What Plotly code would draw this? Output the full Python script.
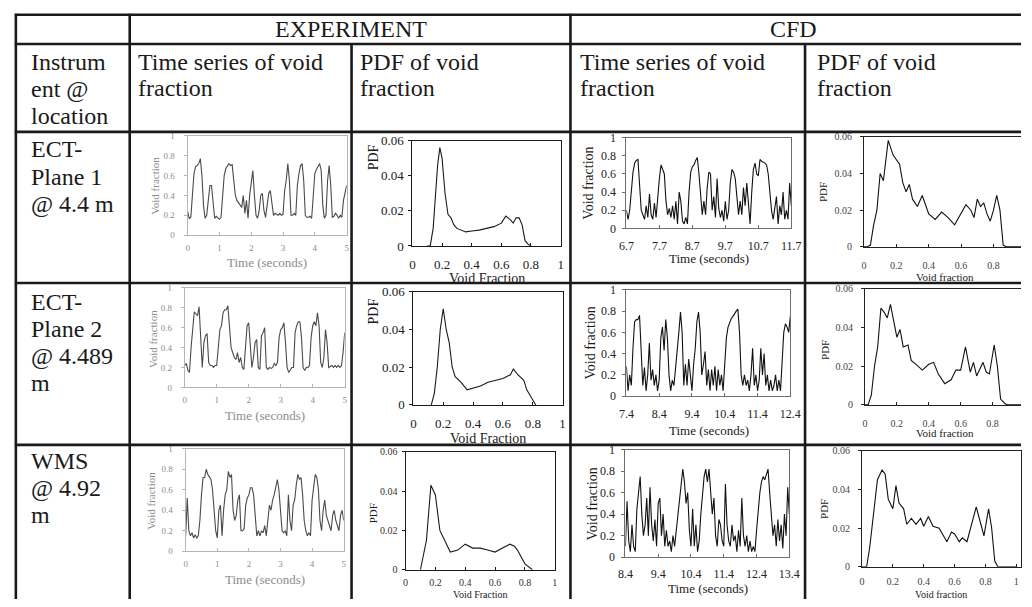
import plotly.graph_objects as go

# ---------------- DATA ----------------
EXP_T_START, EXP_T_END = 0.0, 5.0
exp1_ts = [0.24, 0.17, 0.18, 0.40, 0.62, 0.69, 0.70, 0.72, 0.77, 0.60,
           0.30, 0.17, 0.20, 0.35, 0.50, 0.50, 0.30, 0.17, 0.19, 0.17,
           0.16, 0.18, 0.40, 0.60, 0.67, 0.69, 0.72, 0.70, 0.71, 0.55,
           0.40, 0.35, 0.33, 0.30, 0.28, 0.40, 0.22, 0.35, 0.17, 0.40,
           0.55, 0.65, 0.40, 0.20, 0.17, 0.25, 0.40, 0.42, 0.25, 0.18,
           0.30, 0.42, 0.45, 0.30, 0.20, 0.22, 0.21, 0.20, 0.22, 0.20,
           0.21, 0.45, 0.55, 0.72, 0.55, 0.20, 0.20, 0.22, 0.20, 0.50,
           0.62, 0.70, 0.72, 0.55, 0.20, 0.18, 0.18, 0.19, 0.17, 0.45,
           0.62, 0.66, 0.70, 0.72, 0.65, 0.30, 0.17, 0.20, 0.55, 0.70,
           0.50, 0.18, 0.19, 0.22, 0.20, 0.17, 0.20, 0.18, 0.35, 0.42,
           0.50]
exp2_ts = [0.22, 0.24, 0.17, 0.15, 0.40, 0.62, 0.76, 0.74, 0.72, 0.81,
           0.55, 0.20, 0.45, 0.52, 0.54, 0.25, 0.22, 0.22, 0.20, 0.22,
           0.22, 0.45, 0.58, 0.62, 0.75, 0.78, 0.78, 0.82, 0.60, 0.40,
           0.35, 0.30, 0.28, 0.35, 0.25, 0.30, 0.20, 0.18, 0.40, 0.62,
           0.65, 0.40, 0.20, 0.30, 0.45, 0.48, 0.20, 0.18, 0.52, 0.55,
           0.60, 0.20, 0.18, 0.20, 0.19, 0.20, 0.24, 0.22, 0.25, 0.50,
           0.58, 0.60, 0.65, 0.45, 0.20, 0.15, 0.17, 0.20, 0.20, 0.55,
           0.62, 0.66, 0.66, 0.50, 0.20, 0.17, 0.20, 0.20, 0.22, 0.50,
           0.62, 0.66, 0.62, 0.75, 0.62, 0.25, 0.20, 0.30, 0.58, 0.45,
           0.20, 0.21, 0.22, 0.20, 0.22, 0.20, 0.22, 0.20, 0.22, 0.35,
           0.55]
exp3_ts = [0.15, 0.52, 0.20, 0.15, 0.18, 0.13, 0.16, 0.13, 0.15, 0.30,
           0.55, 0.72, 0.72, 0.80, 0.75, 0.72, 0.70, 0.60, 0.40, 0.20,
           0.13, 0.40, 0.45, 0.15, 0.40, 0.55, 0.60, 0.78, 0.72, 0.75,
           0.40, 0.30, 0.35, 0.50, 0.55, 0.20, 0.20, 0.22, 0.45, 0.52,
           0.55, 0.62, 0.62, 0.55, 0.35, 0.15, 0.20, 0.15, 0.20, 0.18,
           0.25, 0.15, 0.30, 0.45, 0.40, 0.50, 0.55, 0.62, 0.70, 0.60,
           0.35, 0.20, 0.18, 0.20, 0.15, 0.55, 0.30, 0.20, 0.45, 0.50,
           0.65, 0.75, 0.70, 0.72, 0.55, 0.30, 0.20, 0.15, 0.18, 0.15,
           0.50, 0.65, 0.75, 0.72, 0.60, 0.30, 0.20, 0.40, 0.50, 0.35,
           0.30, 0.25, 0.20, 0.35, 0.40, 0.30, 0.25, 0.20, 0.35, 0.40,
           0.30]

cfd1_t = (6.7, 11.7)
cfd1_ts = [0.20, 0.10, 0.20, 0.45, 0.62, 0.72, 0.75, 0.76, 0.50, 0.20,
           0.15, 0.10, 0.25, 0.12, 0.38, 0.15, 0.10, 0.28, 0.12, 0.35,
           0.55, 0.70, 0.65, 0.60, 0.30, 0.15, 0.22, 0.12, 0.25, 0.10,
           0.30, 0.05, 0.40, 0.30, 0.08, 0.05, 0.12, 0.05, 0.40, 0.62,
           0.68, 0.70, 0.75, 0.78, 0.60, 0.35, 0.15, 0.30, 0.15, 0.45,
           0.62, 0.60, 0.20, 0.35, 0.12, 0.55, 0.22, 0.12, 0.20, 0.08,
           0.30, 0.10, 0.20, 0.50, 0.65, 0.62, 0.55, 0.35, 0.15, 0.30,
           0.15, 0.45, 0.25, 0.50, 0.25, 0.05, 0.40, 0.65, 0.72, 0.60,
           0.58, 0.76, 0.74, 0.73, 0.72, 0.70, 0.60, 0.40, 0.20, 0.10,
           0.22, 0.35, 0.05, 0.25, 0.15, 0.40, 0.10, 0.20, 0.10, 0.50,
           0.25]
cfd2_t = (7.4, 12.4)
cfd2_ts = [0.28, 0.05, 0.20, 0.10, 0.45, 0.70, 0.72, 0.72, 0.76, 0.40,
           0.10, 0.27, 0.05, 0.20, 0.50, 0.15, 0.25, 0.10, 0.20, 0.05,
           0.15, 0.55, 0.65, 0.43, 0.72, 0.55, 0.20, 0.05, 0.15, 0.10,
           0.25, 0.40, 0.60, 0.79, 0.60, 0.10, 0.30, 0.10, 0.35, 0.20,
           0.05, 0.30, 0.45, 0.70, 0.79, 0.60, 0.20, 0.30, 0.42, 0.10,
           0.25, 0.05, 0.25, 0.10, 0.28, 0.05, 0.25, 0.10, 0.20, 0.05,
           0.30, 0.55, 0.65, 0.70, 0.73, 0.75, 0.78, 0.80, 0.82, 0.60,
           0.20, 0.10, 0.20, 0.10, 0.15, 0.05, 0.20, 0.45, 0.10, 0.20,
           0.05, 0.15, 0.45, 0.20, 0.40, 0.10, 0.20, 0.05, 0.15, 0.05,
           0.10, 0.20, 0.05, 0.15, 0.05, 0.40, 0.60, 0.68, 0.65, 0.60,
           0.75]
cfd3_t = (8.4, 13.4)
cfd3_ts = [0.10, 0.52, 0.15, 0.05, 0.30, 0.10, 0.05, 0.45, 0.60, 0.75,
           0.40, 0.20, 0.30, 0.55, 0.20, 0.65, 0.30, 0.15, 0.35, 0.10,
           0.50, 0.55, 0.20, 0.40, 0.10, 0.25, 0.10, 0.15, 0.05, 0.20,
           0.10, 0.25, 0.35, 0.55, 0.70, 0.82, 0.70, 0.50, 0.60, 0.25,
           0.10, 0.45, 0.10, 0.30, 0.05, 0.15, 0.40, 0.60, 0.75, 0.82,
           0.70, 0.82, 0.60, 0.40, 0.55, 0.20, 0.10, 0.35, 0.30, 0.15,
           0.10, 0.68, 0.30, 0.15, 0.10, 0.30, 0.15, 0.20, 0.05, 0.25,
           0.10, 0.55, 0.20, 0.10, 0.20, 0.05, 0.15, 0.05, 0.10, 0.05,
           0.25, 0.45, 0.60, 0.70, 0.75, 0.72, 0.78, 0.82, 0.60, 0.40,
           0.20, 0.30, 0.10, 0.35, 0.15, 0.30, 0.08, 0.40, 0.20, 0.65,
           0.40]

exp1_pdf_x = [0.10, 0.12, 0.14, 0.16, 0.17, 0.185, 0.20, 0.22, 0.24, 0.26, 0.28, 0.30, 0.33,
              0.36, 0.40, 0.45, 0.50, 0.55, 0.60, 0.63, 0.66, 0.68, 0.70, 0.72, 0.74,
              0.76, 0.78, 0.80]
exp1_pdf_y = [0.0, 0.0, 0.010, 0.035, 0.046, 0.056, 0.050, 0.030, 0.018, 0.016, 0.012, 0.010,
              0.009, 0.008, 0.0085, 0.009, 0.010, 0.011, 0.013, 0.017, 0.015, 0.013, 0.016,
              0.016, 0.012, 0.003, 0.001, 0.0]
exp2_pdf_x = [0.12, 0.14, 0.16, 0.18, 0.20, 0.22, 0.24, 0.26, 0.28, 0.32, 0.36, 0.40, 0.45,
              0.50, 0.55, 0.60, 0.65, 0.67, 0.70, 0.74, 0.76, 0.80, 0.82]
exp2_pdf_y = [0.0, 0.006, 0.020, 0.040, 0.051, 0.040, 0.033, 0.020, 0.015, 0.012, 0.008, 0.009,
              0.010, 0.012, 0.013, 0.014, 0.016, 0.019, 0.016, 0.013, 0.008, 0.003, 0.0]
exp3_pdf_x = [0.10, 0.14, 0.17, 0.20, 0.23, 0.26, 0.30, 0.35, 0.40, 0.45, 0.50, 0.55, 0.60,
              0.65, 0.70, 0.73, 0.75, 0.80, 0.85]
exp3_pdf_y = [0.0, 0.015, 0.043, 0.038, 0.020, 0.015, 0.009, 0.010, 0.013, 0.011, 0.011,
              0.010, 0.009, 0.011, 0.013, 0.012, 0.010, 0.003, 0.0]

cfd1_pdf_x = [0.0, 0.02, 0.04, 0.06, 0.08, 0.10, 0.12, 0.15, 0.18, 0.22, 0.24, 0.26, 0.28, 0.30,
              0.33, 0.36, 0.40, 0.44, 0.48, 0.52, 0.56, 0.60, 0.63, 0.66, 0.68, 0.70, 0.72,
              0.74, 0.76, 0.78, 0.80, 0.82, 0.84, 0.86, 0.88, 1.0]
cfd1_pdf_y = [0.0, 0.0, 0.001, 0.012, 0.020, 0.040, 0.036, 0.058, 0.050, 0.045, 0.035, 0.030,
              0.034, 0.026, 0.022, 0.028, 0.018, 0.015, 0.019, 0.016, 0.012, 0.018, 0.023,
              0.020, 0.016, 0.026, 0.022, 0.024, 0.018, 0.014, 0.020, 0.028, 0.020, 0.001,
              0.0, 0.0]
cfd2_pdf_x = [0.0, 0.02, 0.04, 0.06, 0.08, 0.10, 0.12, 0.14, 0.16, 0.18, 0.20, 0.22, 0.24, 0.27,
              0.29, 0.32, 0.36, 0.40, 0.43, 0.46, 0.50, 0.54, 0.57, 0.60, 0.63, 0.66, 0.68,
              0.70, 0.74, 0.76, 0.78, 0.81, 0.83, 0.85, 0.88, 0.90, 1.0]
cfd2_pdf_y = [0.0, 0.0, 0.005, 0.020, 0.030, 0.050, 0.048, 0.045, 0.052, 0.044, 0.035, 0.039,
              0.030, 0.031, 0.023, 0.021, 0.018, 0.021, 0.022, 0.016, 0.011, 0.013, 0.018,
              0.018, 0.030, 0.017, 0.022, 0.015, 0.022, 0.017, 0.016, 0.031, 0.020, 0.003,
              0.0005, 0.0, 0.0]
cfd3_pdf_x = [0.0, 0.03, 0.05, 0.08, 0.10, 0.13, 0.15, 0.17, 0.20, 0.22, 0.24, 0.27, 0.29, 0.32,
              0.35, 0.38, 0.40, 0.43, 0.46, 0.50, 0.52, 0.55, 0.58, 0.60, 0.63, 0.65, 0.68,
              0.71, 0.74, 0.77, 0.79, 0.82, 0.84, 0.86, 0.88, 1.0]
cfd3_pdf_y = [0.0, 0.0, 0.010, 0.030, 0.045, 0.050, 0.048, 0.035, 0.030, 0.042, 0.033, 0.030,
              0.022, 0.025, 0.022, 0.025, 0.021, 0.026, 0.021, 0.020, 0.017, 0.013, 0.018,
              0.017, 0.013, 0.015, 0.013, 0.022, 0.031, 0.022, 0.016, 0.030, 0.020, 0.003,
              0.0, 0.0]

# tick labels
ts_y_ticks = [0, 0.2, 0.4, 0.6, 0.8, 1]
ts_y_labels = ["0", "0.2", "0.4", "0.6", "0.8", "1"]
exp_ts_x_ticks = [0, 1, 2, 3, 4, 5]
exp_ts_x_labels = ["0", "1", "2", "3", "4", "5"]
cfd1_x_ticks = [6.7, 7.7, 8.7, 9.7, 10.7, 11.7]
cfd2_x_ticks = [7.4, 8.4, 9.4, 10.4, 11.4, 12.4]
cfd3_x_ticks = [8.4, 9.4, 10.4, 11.4, 12.4, 13.4]
pdf_x_ticks = [0, 0.2, 0.4, 0.6, 0.8, 1]
pdf_x_labels = ["0", "0.2", "0.4", "0.6", "0.8", "1"]
pdf_y_ticks = [0, 0.02, 0.04, 0.06]
pdf_y_labels = ["0", "0.02", "0.04", "0.06"]

# table text
header_groups = ["EXPERIMENT", "CFD"]
col_header_1 = ["Instrum", "ent @", "location"]
col_header_ts = ["Time series of void", "fraction"]
col_header_pdf = ["PDF of void", "fraction"]
row_labels = [["ECT-", "Plane 1", "@ 4.4 m"],
              ["ECT-", "Plane 2", "@ 4.489", "m"],
              ["WMS", "@ 4.92", "m"]]

# ---------------- FIGURE ----------------
W, H = 1032, 607
SERIF = "Liberation Serif"
INK = "#1a1a1a"


def fx(x):
    return x / W


def fy(y):
    return 1 - y / H


fig = go.Figure()
annotations = []
shapes = []


def text(t, x, y, size, color=INK, xanchor="center", angle=0):
    annotations.append(dict(text=t, x=fx(x), y=fy(y), xref="paper", yref="paper",
                            xanchor=xanchor, yanchor="middle", showarrow=False,
                            textangle=angle,
                            font=dict(family=SERIF, size=size, color=color)))


def hline(y, x0, x1):
    shapes.append(dict(type="line", xref="paper", yref="paper", x0=fx(x0), x1=fx(x1),
                       y0=fy(y), y1=fy(y), line=dict(color=INK, width=2.6)))


def vline(x, y0, y1):
    shapes.append(dict(type="line", xref="paper", yref="paper", x0=fx(x), x1=fx(x),
                       y0=fy(y0), y1=fy(y1), line=dict(color=INK, width=2.6)))


def panel(i, box, xr, yr, xticks, xlabels, yticks, ylabels, xs, ys, st,
          xstand, ystand, ymirror=True, xmirror=True):
    x0, x1, ytop, ybot = box
    sx = "" if i == 1 else str(i)
    fig.add_trace(go.Scatter(x=xs, y=ys, mode="lines", xaxis="x" + sx, yaxis="y" + sx,
                             line=dict(color=st["line"], width=st["lw"]),
                             showlegend=False, hoverinfo="skip"))
    common = dict(showgrid=False, zeroline=False, showline=True, linecolor=st["frame"],
                  linewidth=1, tickcolor=st["frame"], ticklen=3,
                  tickfont=dict(family=SERIF, size=st["tick"], color=st["text"]))
    fig.layout["xaxis" + sx] = dict(domain=[fx(x0), fx(x1)], range=xr, anchor="y" + sx,
                                    tickmode="array", tickvals=xticks, ticktext=xlabels,
                                    ticks="inside", mirror=xmirror,
                                    ticklabelstandoff=xstand, **common)
    fig.layout["yaxis" + sx] = dict(domain=[fy(ybot), fy(ytop)], range=yr, anchor="x" + sx,
                                    tickmode="array", tickvals=yticks, ticktext=ylabels,
                                    ticks="outside", mirror=ymirror,
                                    ticklabelstandoff=ystand, **common)


def times(span, n):
    a, b = span
    return [a + (b - a) * k / (n - 1) for k in range(n)]


EXP_TS = dict(line="#4a4a4a", frame="#b5b5b5", text="#8c8c8c", tick=9, lw=1.1)
EXP_PDF = dict(line="#1a1a1a", frame="#1a1a1a", text="#1a1a1a", tick=13, lw=1.1)
EXP_PDF3 = dict(line="#1a1a1a", frame="#1a1a1a", text="#333333", tick=10, lw=1.1)
CFD_TS = dict(line="#111111", frame="#6e6e6e", text="#222222", tick=12, lw=1.1)
CFD_PDF = dict(line="#111111", frame="#222222", text="#444444", tick=10, lw=1.1)

exp_series = [exp1_ts, exp2_ts, exp3_ts]
exp_pdfs = [(exp1_pdf_x, exp1_pdf_y), (exp2_pdf_x, exp2_pdf_y), (exp3_pdf_x, exp3_pdf_y)]
cfd_series = [(cfd1_t, cfd1_ts, cfd1_x_ticks), (cfd2_t, cfd2_ts, cfd2_x_ticks),
              (cfd3_t, cfd3_ts, cfd3_x_ticks)]
cfd_pdfs = [(cfd1_pdf_x, cfd1_pdf_y), (cfd2_pdf_x, cfd2_pdf_y), (cfd3_pdf_x, cfd3_pdf_y)]

# layout boxes (pixels: left, right, top, bottom)
exp_ts_box = [(183, 345, 132, 234), (180, 343, 288, 390), (181, 342, 453, 558)]
exp_pdf_box = [(412, 563, 137, 245), (413, 565, 292, 408), (405, 557, 456, 577)]
cfd_ts_box = [(630, 798, 134, 227), (630, 797, 290, 399), (629, 796, 454, 564)]
cfd_pdf_box = [(872, 1032, 133, 246), (873, 1032, 289, 408), (870, 1032, 455, 574)]
cfd_pdf_xmax = [0.97, 0.978, 1.03]

k = 1
for r in range(3):
    n = len(exp_series[r])
    panel(k, exp_ts_box[r], [EXP_T_START, EXP_T_END], [0, 1], exp_ts_x_ticks, exp_ts_x_labels,
          ts_y_ticks, ts_y_labels, times((EXP_T_START, EXP_T_END), n), exp_series[r], EXP_TS,
          xstand=4, ystand=7)
    k += 1
    st = EXP_PDF if r < 2 else EXP_PDF3
    panel(k, exp_pdf_box[r], [0, 1], [0, 0.06], pdf_x_ticks, pdf_x_labels, pdf_y_ticks,
          pdf_y_labels, exp_pdfs[r][0], exp_pdfs[r][1], st, xstand=6 if r < 2 else 3,
          ystand=2)
    k += 1
    span, vals, xt = cfd_series[r]
    panel(k, cfd_ts_box[r], list(span), [0, 1], xt, [f"{v:.1f}" for v in xt], ts_y_ticks,
          ts_y_labels, times(span, len(vals)), vals, CFD_TS, xstand=6, ystand=4)
    k += 1
    panel(k, cfd_pdf_box[r], [0, cfd_pdf_xmax[r]], [0, 0.06], pdf_x_ticks, pdf_x_labels,
          pdf_y_ticks, pdf_y_labels, cfd_pdfs[r][0], cfd_pdfs[r][1], CFD_PDF,
          xstand=9 if r < 2 else 5, ystand=6, ymirror=(r == 2))
    k += 1

# axis titles
for (x, y) in [(150, 183), (147, 340), (146, 506)]:
    text("Void fraction", x, y, 11, EXP_TS["text"], angle=-90)
for (x, y) in [(264, 262), (262, 419), (262, 587)]:
    text("Time (seconds)", x, y, 13, EXP_TS["text"])
for (x, y, s) in [(372, 154, 14), (372, 312, 14), (372, 519, 11)]:
    text("PDF", x, y, s, INK, angle=-90)
for (x, y, s) in [(488, 278, 14), (489, 442, 14), (481, 602, 10)]:
    text("Void Fraction", x, y, s, INK)
for (x, y) in [(591, 181), (593, 345), (595, 510)]:
    text("Void fraction", x, y, 14, INK, angle=-90)
for (x, y) in [(714, 258), (714, 434), (713, 596)]:
    text("Time (seconds)", x, y, 13, INK)
for (x, y) in [(831, 190), (833, 352), (832, 515)]:
    text("PDF", x, y, 11, INK, angle=-90)
for (x, y, s) in [(955, 277, 11), (955, 437, 11), (951, 602, 10)]:
    text("Void fraction", x, y, s, INK)

# table grid
for y in (8, 38, 128, 283, 449):
    hline(y, 7, 1032)
vline(8, 7, 607)
vline(124, 7, 607)
vline(350, 38, 607)
vline(573, 7, 607)
vline(812, 38, 607)

# table text
HS = 24
text(header_groups[0], 349, 23, HS)
text(header_groups[1], 800, 23, HS)
for j, t in enumerate(col_header_1):
    text(t, 21, 56 + 28 * j, HS, xanchor="left")
for x0 in (130, 581):
    for j, t in enumerate(col_header_ts):
        text(t, x0, 56 + 27 * j, HS, xanchor="left")
for x0 in (357, 822):
    for j, t in enumerate(col_header_pdf):
        text(t, x0, 56 + 27 * j, HS, xanchor="left")
row_top = [146, 302, 465]
for r, lines in enumerate(row_labels):
    for j, t in enumerate(lines):
        text(t, 21, row_top[r] + 28 * j, HS, xanchor="left")

fig.update_layout(width=W, height=H, margin=dict(l=0, r=0, t=0, b=0),
                  paper_bgcolor="white", plot_bgcolor="white",
                  annotations=annotations, shapes=shapes, showlegend=False)

fig.write_html("out.html", config={"displayModeBar": False},
               post_script="document.body.style.margin='0px';"
                           "document.body.style.overflow='hidden';")
